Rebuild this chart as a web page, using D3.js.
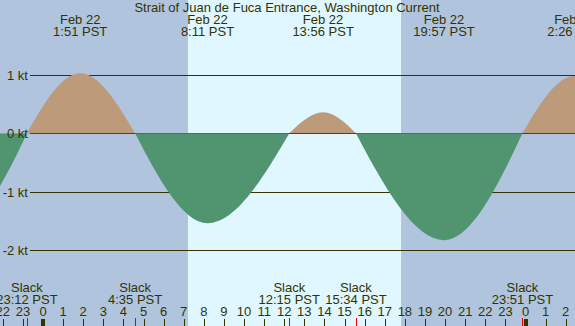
<!DOCTYPE html>
<html>
<head>
<meta charset="utf-8">
<script src="https://cdn.jsdelivr.net/npm/d3@7"></script>
<style>
  body { margin: 0; padding: 0; overflow: hidden; }
  text { font-family: "Liberation Sans", Arial, sans-serif; font-size: 13px; fill: #333300; }
</style>
</head>
<body>
<script>
// current events, hours from midnight Feb 22 (negative = Feb 21)
var eventHours  = [-4.0, -0.8, 1.85, 4.583, 8.183, 12.25, 13.933, 15.567, 19.95, 23.85, 26.433, 29.5];
var eventValues = [-1.5, 0, 1.03, 0, -1.54, 0, 0.36, 0, -1.83, 0, 0.98, 0];

// labelled max flood / ebb times (top) and slack times (bottom)
var peakHours  = [1.85, 8.183, 13.933, 19.95, 26.433];
var peakLabels = ['1:51 PST', '8:11 PST', '13:56 PST', '19:57 PST', '2:26 PST'];
var peakDates  = ['Feb 22', 'Feb 22', 'Feb 22', 'Feb 22', 'Feb 22'];
var slackHours  = [-0.8, 4.583, 12.25, 15.567, 23.85];
var slackLabels = ['23:12 PST', '4:35 PST', '12:15 PST', '15:34 PST', '23:51 PST'];

var yTicks = [1, 0, -1, -2];
var yTickLabels = ['1 kt', '0 kt', '-1 kt', '-2 kt'];
var hourTicks = d3.range(-2, 27);

var sunrise = 7.21, sunset = 17.81;
var title = 'Strait of Juan de Fuca Entrance, Washington Current';

var width = 575, height = 326;

var svg = d3.select('body').append('svg')
  .attr('width', width)
  .attr('height', height);

var x = d3.scaleLinear().domain([0, 24]).range([43, 525.5]);
var y = d3.scaleLinear().domain([0, 1]).range([133.3, 74.9]);
var zeroPix = y(0);

// curve: quarter-sine between slack and max current (slack points get a steep slope)
function TideCurve(context) { this._context = context; }
TideCurve.prototype = {
  areaStart: function() { this._line = 0; },
  areaEnd: function() { this._line = NaN; },
  lineStart: function() { this._pts = []; },
  lineEnd: function() {
    var p = this._pts, c = this._context, n = p.length;
    if (n) {
      if (this._line) c.lineTo(p[0][0], p[0][1]); else c.moveTo(p[0][0], p[0][1]);
      for (var i = 0; i < n - 1; i++) {
        var a = p[i], b = p[i + 1], dx = b[0] - a[0];
        var sec = dx ? (b[1] - a[1]) / dx : 0;
        var ma = Math.abs(a[1] - zeroPix) < 0.01 ? Math.PI / 2 * sec : 0;
        var mb = Math.abs(b[1] - zeroPix) < 0.01 ? Math.PI / 2 * sec : 0;
        c.bezierCurveTo(a[0] + dx / 3, a[1] + ma * dx / 3,
                        b[0] - dx / 3, b[1] - mb * dx / 3,
                        b[0], b[1]);
      }
    }
    if (this._line || (this._line !== 0 && n === 1)) c.closePath();
    this._line = 1 - this._line;
  },
  point: function(px, py) { this._pts.push([+px, +py]); }
};
function curveTide(context) { return new TideCurve(context); }

// night / day background
svg.append('rect')
  .attr('x', 0).attr('y', 0)
  .attr('width', width).attr('height', height)
  .attr('fill', '#b0c4de');

svg.append('rect')
  .attr('x', x(sunrise)).attr('y', 0)
  .attr('width', x(sunset) - x(sunrise)).attr('height', height)
  .attr('fill', '#e0f7ff');

// grid lines (under the fill)
svg.selectAll('.grid')
  .data(yTicks).enter().append('line')
  .attr('x1', 30).attr('x2', width)
  .attr('y1', function(d){ return Math.round(y(d)) + 0.5; })
  .attr('y2', function(d){ return Math.round(y(d)) + 0.5; })
  .attr('stroke', '#333300')
  .attr('stroke-width', 1);

// clip regions for flood / ebb colouring
var defs = svg.append('defs');
defs.append('clipPath').attr('id', 'above')
  .append('rect').attr('x', 0).attr('y', 0).attr('width', width).attr('height', zeroPix);
defs.append('clipPath').attr('id', 'below')
  .append('rect').attr('x', 0).attr('y', zeroPix).attr('width', width).attr('height', height);

var pts = eventHours.map(function(h, i){ return [h, eventValues[i]]; });

var area = d3.area()
  .x(function(d){ return x(d[0]); })
  .y0(zeroPix)
  .y1(function(d){ return y(d[1]); })
  .curve(curveTide);

svg.append('path')
  .datum(pts)
  .attr('d', area)
  .attr('fill', '#bc9a7a')
  .attr('clip-path', 'url(#above)');

svg.append('path')
  .datum(pts)
  .attr('d', area)
  .attr('fill', '#509470')
  .attr('clip-path', 'url(#below)');

// y labels
svg.selectAll('.ylabel')
  .data(yTicks).enter().append('text')
  .text(function(d, i){ return yTickLabels[i]; })
  .attr('x', 28)
  .attr('y', function(d){ return y(d) + 5; })
  .style('text-anchor', 'end');

// title
svg.append('text')
  .text(title)
  .attr('x', 287)
  .attr('y', 12)
  .style('text-anchor', 'middle');

// peak labels
svg.selectAll('.pdate')
  .data(peakHours).enter().append('text')
  .text(function(d, i){ return peakDates[i]; })
  .attr('x', function(d){ return x(d); })
  .attr('y', 24)
  .style('text-anchor', 'middle');

svg.selectAll('.ptime')
  .data(peakHours).enter().append('text')
  .text(function(d, i){ return peakLabels[i]; })
  .attr('x', function(d){ return x(d); })
  .attr('y', 36)
  .style('text-anchor', 'middle');

// slack labels
svg.selectAll('.slack')
  .data(slackHours).enter().append('text')
  .text('Slack')
  .attr('x', function(d){ return x(d); })
  .attr('y', 292)
  .style('text-anchor', 'middle');

svg.selectAll('.stime')
  .data(slackHours).enter().append('text')
  .text(function(d, i){ return slackLabels[i]; })
  .attr('x', function(d){ return x(d); })
  .attr('y', 304)
  .style('text-anchor', 'middle');

// hour axis
svg.selectAll('.hlabel')
  .data(hourTicks).enter().append('text')
  .text(function(d){ return ((d % 24) + 24) % 24; })
  .attr('x', function(d){ return x(d); })
  .attr('y', 316)
  .style('text-anchor', 'middle');

svg.selectAll('.htick')
  .data(hourTicks).enter().append('rect')
  .attr('x', function(d){ return d % 24 === 0 ? Math.round(x(d)) - 2 : Math.round(x(d)); })
  .attr('y', 319)
  .attr('width', function(d){ return d % 24 === 0 ? 4 : 1; })
  .attr('height', 7)
  .attr('fill', '#333300');

svg.selectAll('.stick')
  .data(slackHours).enter().append('rect')
  .attr('x', function(d){ return Math.round(x(d)); })
  .attr('y', 318)
  .attr('width', 1)
  .attr('height', 8)
  .attr('fill', '#e00000');
</script>
</body>
</html>
